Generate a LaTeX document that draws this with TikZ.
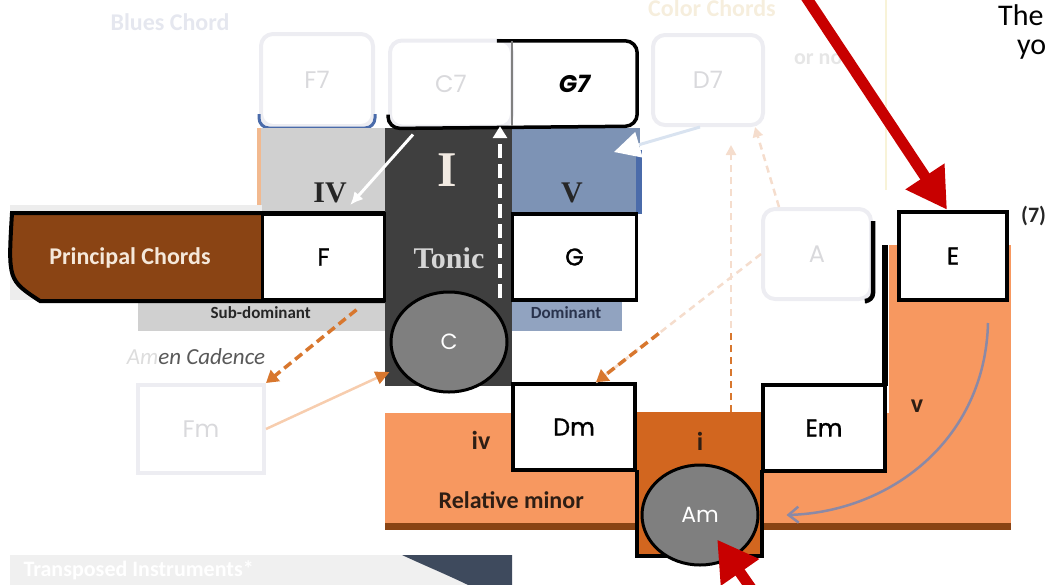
\documentclass[tikz,border=0pt]{standalone}
\usepackage{fontspec}
\setmainfont{Carlito}
\newfontfamily\chordfont{Poppins}
\newfontfamily\chordheavy{Poppins}[FakeBold=1.2]
\newfontfamily\romanfont{Liberation Serif}
\usetikzlibrary{positioning,shapes.geometric,arrows.meta,calc}

\definecolor{brownbar}{HTML}{8A4414}
\definecolor{minorfill}{HTML}{F79860}
\definecolor{minordark}{HTML}{D2661F}
\definecolor{domblue}{HTML}{7D93B5}
\definecolor{domedge}{HTML}{4A6BAA}
\definecolor{subgrey}{HTML}{D0D0D0}
\definecolor{subedge}{HTML}{F2B98F}
\definecolor{tonicgrey}{HTML}{3F3F3F}
\definecolor{rootgrey}{HTML}{7F7F7F}
\definecolor{faintline}{HTML}{EDEDF2}
\definecolor{fainttext}{HTML}{D9D9DC}
\definecolor{cadenceor}{HTML}{D8772E}
\definecolor{cadencelight}{HTML}{F7CDAE}
\definecolor{ghostor}{HTML}{F5DDCD}
\definecolor{pointred}{HTML}{C80000}
\definecolor{labeldark}{HTML}{262626}
\definecolor{domtext}{HTML}{29334D}
\definecolor{tonictext}{HTML}{D6D6D6}
\definecolor{tonicI}{HTML}{F2EAE2}
\definecolor{principaltext}{HTML}{F5E8DA}
\definecolor{amen}{HTML}{595959}
\definecolor{amenfade}{HTML}{DDDDDD}
\definecolor{minortext}{HTML}{2E1E14}
\definecolor{bluesfaint}{HTML}{E5E7EF}
\definecolor{colorfaint}{HTML}{F6EEDD}
\definecolor{notfaint}{HTML}{E6E6E6}
\definecolor{yellowfaint}{HTML}{F8F3D8}
\definecolor{slate}{HTML}{3E4A5D}
\definecolor{blueghost}{HTML}{D9E3F0}
\definecolor{curl}{HTML}{8B89A6}

\newcommand\fsz[1]{\fontsize{#1}{#1}\selectfont}

\tikzset{
	chord/.style={draw=black, line width=3.5pt, fill=white, inner sep=0pt, minimum width=122pt, minimum height=86pt, font=\chordheavy\fsz{24}},
	faded/.style={draw=faintline, line width=4pt, rounded corners=12pt, inner sep=0pt, minimum width=110pt, minimum height=90pt, text=fainttext, font=\chordfont\fsz{24}},
	root/.style={ellipse, draw=black, line width=3pt, fill=rootgrey, inner sep=0pt, minimum width=116pt, minimum height=100pt, text=white, font=\chordfont\fsz{22}},
	degree/.style={font=\romanfont\bfseries\fsz{30}, text=labeldark},
	minortag/.style={font=\bfseries\fsz{26}, text=minortext},
	caption/.style={font=\bfseries\fsz{17}},
	pointer/.style={draw=pointred, line width=11pt, -{Triangle[length=40pt, width=44pt]}},
	cadence/.style={draw=cadenceor, line width=3.5pt, dash pattern=on 9pt off 5pt, -{Triangle[length=12pt, width=14pt]}},
	ghost/.style={draw=ghostor, line width=2.5pt, dash pattern=on 7pt off 5pt},
}

\begin{document}
\begin{tikzpicture}[x=1pt, y=-1pt]
	\useasboundingbox (0,0) rectangle (1049,584);
	\node[font=\bfseries\fsz{24}, text=bluesfaint] (blues) at (170,22) {Blues Chord};
	\node[font=\bfseries\fsz{24}, text=colorfaint] (colour) at (712,8) {Color Chords};
	\node[font=\bfseries\fsz{22}, text=notfaint] (ornot) at (822,58) {or not};
	\draw[yellowfaint, line width=2.5pt] (886,0) -- (886,190);

	\node[faded, minimum width=112pt, minimum height=92pt] (f7) at (317,80) {F7};
	\draw[domedge, line width=3pt, rounded corners=10pt] ([yshift=14pt]f7.south west) |- (f7.south) -| ([yshift=14pt]f7.south east);
	\node[faded] (d7) at (708,80) {D7};
	\node[faded, minimum width=108pt] (a) at (817,254) {A};
	\draw[line width=4.5pt, rounded corners=8pt] ([yshift=-14pt]a.north east) -- (a.south east) -- ++(-6,0);
	\node[faded, rounded corners=0pt, minimum width=126pt, minimum height=88pt] (fm) at (201,429) {Fm};

	% coloured areas
	\fill[subgrey] (260,128) rectangle (385,214);
	\fill[subgrey] (138,300) rectangle (385,331);
	\fill[subedge] (257,128) rectangle (261,214);
	\fill[tonicgrey] (385,128) rectangle (512,386);
	\fill[domblue] (512,128) rectangle (640,214);
	\fill[domedge] (636,150) rectangle (642,214);
	\fill[domblue!85] (512,300) rectangle (622,331);
	\fill[gray!14] (10,205) rectangle (262,300);
	\draw[line width=4pt, fill=brownbar] (385,213) -- (12,213) .. controls (8,280) .. (40,301) -- (385,301);
	\fill[minorfill] (385,413) rectangle (1011,524);
	\fill[minorfill] (889,245) rectangle (1011,524);
	\fill[brownbar] (385,523) rectangle (1011,530);
	\fill[minordark] (637,412) rectangle (762,556);
	\draw[line width=4pt] (637,470) |- (762,556) -- (762,470);
	\draw[line width=6pt] (885,245) -- (885,386);

	\node[chord] (f) at (323.5,257) {F};
	\node[chord, minimum width=124pt] (g) at (574.5,257) {G};
	\node[chord, line width=4.5pt, minimum width=108pt, minimum height=88pt] (e) at (953,256) {E};
	\node[chord] (dm) at (574,427) {Dm};
	\node[chord] (em) at (824,428) {Em};

	\node[faded, minimum width=122pt, minimum height=86pt] (c7) at (451,83.5) {C7};
	\node[inner sep=0pt, minimum width=125pt, minimum height=85pt, font=\chordfont\bfseries\itshape\fsz{24}] (g7) at (574.5,83.5) {G7};
	\draw[line width=3.5pt, rounded corners=12pt] ([xshift=-15pt]g7.north west) -- (g7.north east) -- (g7.south east) -- (c7.south west) -- ++(0,-14);
	\draw[gray, line width=1.5pt] (g7.north west) -- (g7.south west);

	\node[root] (c) at (449,342) {C};
	\node[root] (am) at (700,515) {Am};

	\node[degree] (ivlab) at (330,193) {IV};
	\node[degree, text=tonicI, font=\romanfont\bfseries\fsz{50}] (ilab) at (447,170) {I};
	\node[degree] (vlab) at (572,193) {V};
	\node[degree, text=tonictext, above=18pt of c.north] (tonic) {Tonic};
	\node[font=\bfseries\fsz{24}, text=principaltext] (principal) at (130,258) {Principal Chords};
	\node[caption, text=labeldark, below=1pt of f.south west] (subdom) {Sub-dominant};
	\node[caption, text=domtext] (dom) at (566,313) {Dominant};
	\node[font=\itshape\fsz{23}, text=amen] (amen) at (196,357) {\textcolor{amenfade}{Am}en Cadence};
	\node[minortag] (ivm) at (481,440) {iv};
	\node[minortag] (im) at (700,441) {i};
	\node[minortag] (vm) at (917,406) {v};
	\node[minortag, font=\bfseries\fsz{24}, below=16pt of dm.south west] (relminor) {Relative minor};
	\node[font=\bfseries\fsz{22}, text=labeldark, anchor=west, inner sep=1pt] (seven) at (1020,216) {(7)};
	\node[font=\fsz{30}, anchor=west, inner sep=0pt] (the) at (998,15) {The};
	\node[font=\fsz{30}, anchor=west, inner sep=0pt] (yo) at (1017,50) {yo};

	\fill[gray!12] (10,555) rectangle (512,590);
	\fill[slate] (402,555) .. controls (430,568) and (455,578) .. (478,590) -- (512,590) -- (512,555) -- cycle;
	\node[font=\bfseries\fsz{22}, text=white, anchor=west] (transposed) at (20,570) {Transposed Instruments*};

	% arrows
	\draw[white, line width=3pt, -{Latex[length=13pt, width=12pt]}] ([xshift=25pt, yshift=-6pt]c7.south west) -- ([yshift=-12pt]ivlab.east);
	\coordinate (dashfoot) at (500,298);
	\draw[white, line width=4.5pt, dash pattern=on 14pt off 6pt, -{Triangle[length=12pt, width=14pt]}] (dashfoot) -- (dashfoot |- g7.south);
	\coordinate (vin) at (614,152);
	\draw[blueghost, line width=3pt, -{Triangle[white, length=26pt, width=26pt]}] ([xshift=-8pt]d7.south) -- (vin);
	\draw[cadence] ([xshift=33pt, yshift=-8pt]f.south) -- (fm.north east);
	\draw[draw=cadencelight, line width=2.5pt, -{Triangle[color=cadenceor, length=14pt, width=13pt]}] (fm.east) -- ([yshift=-30pt]c.west);
	\draw[ghost, -{Triangle[length=10pt, width=10pt]}] ([xshift=18pt]a.north west) -- ([xshift=-10pt]d7.south east);
	\coordinate (itop) at (731,412);
	\draw[ghost, -{Triangle[length=10pt, width=10pt]}, shorten >=18pt] (itop) -- (itop |- d7.south);
	\draw[ghost, draw=cadenceor] (itop) -- ++(0,-82);
	\coordinate (dmin) at ([xshift=22pt]dm.north);
	\draw[ghost] (a.west) -- (dmin);
	\draw[cadence] ($(a.west)!0.62!(dmin)$) -- (dmin);
	\coordinate (vtop) at (988,323);
	\draw[curl, line width=2.5pt, -{Straight Barb[length=10pt, width=16pt]}] (vtop) .. controls (985,440) and (890,512) .. ([xshift=27pt]am.east);
	\coordinate (red1) at (800,-12);
	\coordinate (red2) at (776,624);
	\draw[pointer] (red1) -- ([xshift=-6pt]e.north);
	\draw[pointer, shorten >=30pt] (red2) -- (am.center);
\end{tikzpicture}
\end{document}
